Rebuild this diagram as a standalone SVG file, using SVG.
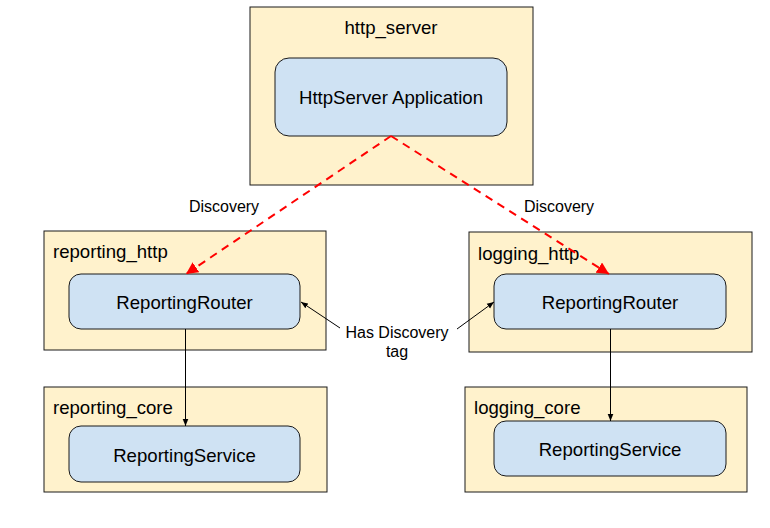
<svg xmlns="http://www.w3.org/2000/svg" width="770" height="528" viewBox="0 0 770 528">
<style>
.box{fill:#fff2cc;stroke:#1a1a1a;stroke-width:1}
.node{fill:#cfe2f3;stroke:#1a1a1a;stroke-width:1}
text{font-family:"Liberation Sans",Arial,sans-serif;fill:#000}
.t18{font-size:18.6px}
.t16{font-size:16px}
.c{text-anchor:middle}
.disc{stroke:#ff0000;stroke-width:2;stroke-dasharray:8,6;fill:none}
.thin{stroke:#000;stroke-width:1;fill:none}
</style>
<defs>
<marker id="red" viewBox="0 0 10 10" refX="10" refY="5" markerWidth="6" markerHeight="6" orient="auto" markerUnits="strokeWidth">
<path d="M0,0 L10,5 L0,10 z" fill="#ff0000"/>
</marker>
<marker id="blk" viewBox="0 0 10 10" refX="10" refY="5" markerWidth="7" markerHeight="7" orient="auto" markerUnits="strokeWidth">
<path d="M0,1 L10,5 L0,9 z" fill="#000"/>
</marker>
</defs>
<rect width="770" height="528" fill="#fff"/>
<g id="http_server">
<rect class="box" x="250" y="7" width="283" height="178"/>
<text class="t18 c" x="391" y="34">http_server</text>
</g>
<g id="reporting_http">
<rect class="box" x="44" y="231" width="282" height="119"/>
<text class="t18" x="53" y="258">reporting_http</text>
</g>
<g id="logging_http">
<rect class="box" x="469" y="232" width="283" height="120"/>
<text class="t18" x="478" y="260">logging_http</text>
</g>
<g id="reporting_core">
<rect class="box" x="44" y="387" width="283" height="105"/>
<text class="t18" x="53" y="414">reporting_core</text>
</g>
<g id="logging_core">
<rect class="box" x="465" y="387" width="282" height="105"/>
<text class="t18" x="474" y="414">logging_core</text>
</g>
<g id="httpserver_app">
<rect class="node" x="275" y="58" width="232" height="78" rx="14"/>
<text class="t18 c" x="391" y="104">HttpServer Application</text>
</g>
<g id="reporting_router">
<rect class="node" x="69" y="274" width="231" height="55" rx="12"/>
<text class="t18 c" x="184.5" y="309">ReportingRouter</text>
</g>
<g id="logging_router">
<rect class="node" x="494" y="274" width="232" height="55" rx="12"/>
<text class="t18 c" x="610" y="309">ReportingRouter</text>
</g>
<g id="reporting_service">
<rect class="node" x="69" y="426" width="231" height="56" rx="12"/>
<text class="t18 c" x="184.5" y="462">ReportingService</text>
</g>
<g id="logging_service">
<rect class="node" x="494" y="421" width="232" height="55" rx="12"/>
<text class="t18 c" x="610" y="456">ReportingService</text>
</g>
<g id="connectors">
<line class="disc" x1="391" y1="136" x2="186" y2="274" marker-end="url(#red)"/>
<line class="disc" x1="391" y1="136" x2="609" y2="274" marker-end="url(#red)"/>
<line class="thin" x1="185.5" y1="329" x2="185.5" y2="426" marker-end="url(#blk)"/>
<line class="thin" x1="610.5" y1="329" x2="610.5" y2="421" marker-end="url(#blk)"/>
<line class="thin" x1="340" y1="328" x2="301" y2="302" marker-end="url(#blk)"/>
<line class="thin" x1="457" y1="329" x2="494" y2="302" marker-end="url(#blk)"/>
<text class="t16 c" x="224" y="212">Discovery</text>
<text class="t16 c" x="559" y="212">Discovery</text>
<text class="t16 c" x="397" y="338">Has Discovery</text>
<text class="t16 c" x="397" y="357">tag</text>
</g>
</svg>
